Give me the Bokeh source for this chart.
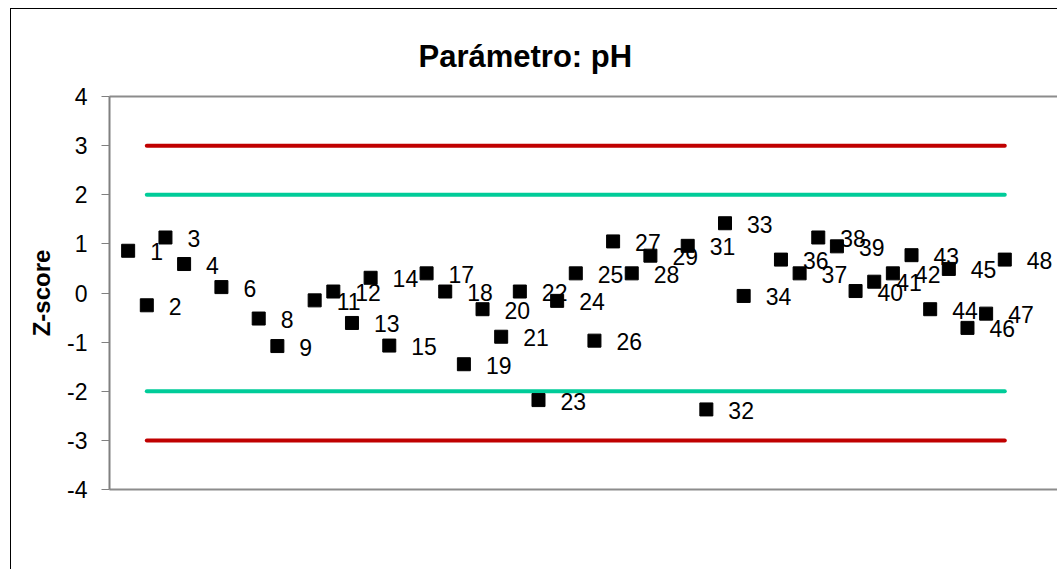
from bokeh.plotting import figure
from bokeh.models import ColumnDataSource, FixedTicker, LinearAxis, Range1d
from bokeh.core.properties import value
from bokeh.embed import file_html
from bokeh.resources import INLINE

# data
labs = [1, 2, 3, 4, 6, 8, 9, 11, 12, 13, 14, 15, 17, 18, 19, 20, 21, 22, 23, 24,
        25, 26, 27, 28, 29, 31, 32, 33, 34, 36, 37, 38, 39, 40, 41, 42, 43, 44,
        45, 46, 47, 48]
zscores = [0.86, -0.25, 1.13, 0.59, 0.12, -0.52, -1.08, -0.15, 0.03, -0.61, 0.31,
           -1.07, 0.40, 0.03, -1.45, -0.33, -0.89, 0.03, -2.18, -0.16, 0.40, -0.97,
           1.05, 0.40, 0.76, 0.96, -2.37, 1.42, -0.06, 0.68, 0.40, 1.13, 0.95, 0.04,
           0.23, 0.40, 0.77, -0.33, 0.49, -0.71, -0.42, 0.68]
label_text = [str(n) for n in labs]
limit_x = [2, 48]
warn_level = 2
action_level = 3
y_ticks = [-4, -3, -2, -1, 0, 1, 2, 3, 4]
y_tick_labels = ["-4", "-3", "-2", "-1", "0", "1", "2", "3", "4"]
title_text = "Parámetro: pH"
y_title = "Z-score"

FONT = "Liberation Sans"

src = ColumnDataSource(dict(x=labs, y=zscores, t=label_text))

p = figure(width=1047, height=561, output_backend="svg", toolbar_location=None,
           x_range=Range1d(0, 50.88), y_range=Range1d(-4, 4),
           min_border_left=98, min_border_top=87, min_border_bottom=81,
           min_border_right=0, title=title_text)
p.styles = {"border-left": "1px solid #000000", "border-top": "1px solid #000000",
            "margin-left": "10px", "margin-top": "8px"}
p.outline_line_color = None
p.grid.visible = False
p.background_fill_color = "white"
p.border_fill_color = "white"

p.title.text_font = FONT
p.title.text_font_size = "31px"
p.title.text_font_style = "bold"
p.title.align = "left"
p.title.offset = 309
p.title.standoff = 45
p.title.text_color = "black"

# limit lines
for lvl, col in [(action_level, "#C00000"), (-action_level, "#C00000"),
                 (warn_level, "#00CC99"), (-warn_level, "#00CC99")]:
    p.line(limit_x, [lvl, lvl], line_color=col, line_width=4, line_cap="round")

p.scatter("x", "y", source=src, marker="square", size=13, fill_color="black",
          line_color="black")
p.text("x", "y", text="t", source=src, text_font=value(FONT), text_font_size="23px",
       text_baseline="middle", text_align="left", x_offset=22, y_offset=1,
       text_color="black")

# axes
ya = p.yaxis[0]
ya.ticker = FixedTicker(ticks=y_ticks)
ya.major_label_overrides = {t: s for t, s in zip(y_ticks, y_tick_labels)}
ya.major_label_text_font = FONT
ya.major_label_text_font_size = "23px"
ya.major_label_text_color = "black"
ya.major_tick_out = 8
ya.major_tick_in = 0
ya.minor_tick_line_color = None
ya.axis_line_color = "#808080"
ya.axis_line_width = 2
ya.major_tick_line_color = "#808080"
ya.major_label_standoff = 14
ya.axis_label = y_title
ya.axis_label_text_font = FONT
ya.axis_label_text_font_size = "24px"
ya.axis_label_text_font_style = "bold"
ya.axis_label_text_color = "black"
ya.axis_label_standoff = 9

xa = p.xaxis[0]
xa.ticker = FixedTicker(ticks=[])
xa.major_tick_line_color = None
xa.minor_tick_line_color = None
xa.major_label_text_font_size = "0px"
xa.axis_line_color = "#8c8c8c"
xa.axis_line_width = 2

top = LinearAxis(ticker=FixedTicker(ticks=[]), major_tick_line_color=None,
                 minor_tick_line_color=None, major_label_text_font_size="0px",
                 axis_line_color="#8c8c8c", axis_line_width=2)
p.add_layout(top, "above")

open("out.html", "w").write(file_html(p, INLINE))
